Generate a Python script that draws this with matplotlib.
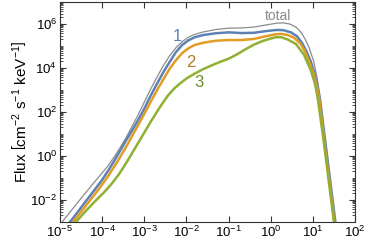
import numpy as np
import matplotlib.pyplot as plt
from matplotlib.ticker import LogLocator, NullFormatter

# values, stored as log10(E / keV) and log10(flux)
logE_total = [-4.95, -4.57, -4.26, -3.86, -3.70, -3.55, -3.40, -3.17, -3.00, -2.86, -2.70, -2.55,
              -2.40, -2.25, -2.10, -1.95, -1.80, -1.60, -1.30, -1.00, -0.70, -0.40, -0.10, 0.15,
              0.30, 0.45, 0.60, 0.72, 0.82, 0.92, 1.02, 1.10, 1.19, 1.31, 1.43, 1.55]
logF_total = [-3.00, -2.09, -1.36, -0.45, 0.00, 0.45, 0.95, 1.78, 2.45, 3.00, 3.58, 4.10,
              4.55, 4.92, 5.20, 5.40, 5.53, 5.64, 5.75, 5.81, 5.82, 5.86, 5.96, 6.04,
              6.05, 6.00, 5.86, 5.62, 5.30, 4.88, 4.30, 3.55, 2.50, 0.66, -1.16, -3.00]

logE_1 = [-4.76, -4.40, -4.02, -3.84, -3.67, -3.45, -3.17, -3.00, -2.86, -2.70, -2.55, -2.40,
          -2.25, -2.10, -1.95, -1.80, -1.60, -1.30, -1.00, -0.70, -0.40, -0.10, 0.15, 0.30,
          0.48, 0.62, 0.74, 0.85, 0.95, 1.03, 1.10, 1.16, 1.28, 1.40, 1.52]
logF_1 = [-3.00, -2.09, -1.14, -0.62, -0.08, 0.65, 1.55, 2.15, 2.70, 3.28, 3.80, 4.27,
          4.72, 5.05, 5.26, 5.40, 5.50, 5.58, 5.62, 5.59, 5.60, 5.68, 5.73, 5.72,
          5.62, 5.45, 5.15, 4.75, 4.30, 3.80, 3.25, 2.62, 0.70, -1.15, -3.00]

logE_2 = [-4.69, -4.26, -4.05, -3.86, -3.62, -3.40, -3.17, -3.00, -2.86, -2.70, -2.55, -2.40,
          -2.25, -2.10, -1.95, -1.80, -1.60, -1.30, -1.00, -0.70, -0.40, -0.17, 0.10, 0.25,
          0.40, 0.55, 0.70, 0.80, 0.90, 1.02, 1.10, 1.15, 1.27, 1.39, 1.51]
logF_2 = [-3.00, -1.95, -1.43, -0.92, -0.20, 0.52, 1.32, 1.92, 2.42, 2.98, 3.48, 3.96,
          4.35, 4.68, 4.90, 5.05, 5.15, 5.24, 5.27, 5.27, 5.32, 5.42, 5.53, 5.55,
          5.50, 5.38, 5.12, 4.80, 4.35, 3.70, 3.10, 2.60, 0.68, -1.15, -3.00]

logE_3 = [-4.62, -4.40, -4.17, -3.95, -3.79, -3.62, -3.50, -3.38, -3.20, -3.05, -2.85, -2.62,
          -2.45, -2.30, -2.15, -2.00, -1.80, -1.60, -1.40, -1.20, -1.00, -0.80, -0.60, -0.40,
          -0.20, 0.00, 0.12, 0.25, 0.40, 0.60, 0.79, 0.95, 1.05, 1.11, 1.26, 1.38, 1.50]
logF_3 = [-3.00, -2.52, -2.06, -1.64, -1.30, -0.88, -0.53, -0.16, 0.42, 0.90, 1.55, 2.25,
          2.72, 3.05, 3.30, 3.52, 3.75, 3.95, 4.12, 4.28, 4.42, 4.62, 4.85, 5.06,
          5.22, 5.34, 5.40, 5.40, 5.30, 5.09, 4.60, 3.90, 3.28, 2.70, 0.64, -1.18, -3.00]

x_ticks = [1e-5, 1e-4, 1e-3, 1e-2, 1e-1, 1e0, 1e1, 1e2]
y_ticks = [1e-2, 1e0, 1e2, 1e4, 1e6]

plt.rcParams['font.family'] = 'Liberation Sans'
plt.rcParams['mathtext.fontset'] = 'custom'
plt.rcParams['mathtext.rm'] = 'Liberation Sans'
plt.rcParams['mathtext.it'] = 'Liberation Sans:italic'

c_total = '#8c8c8c'
c1 = '#5e81b5'
c2 = '#e19c24'
c3 = '#8fb032'

fig = plt.figure(figsize=(3.66, 2.41), dpi=100)
ax = fig.add_axes([60 / 366, 1 - 222 / 241, 295 / 366, 220 / 241])

ax.plot(10 ** np.array(logE_total), 10 ** np.array(logF_total), color=c_total, lw=0.9)
ax.plot(10 ** np.array(logE_1), 10 ** np.array(logF_1), color=c1, lw=1.8)
ax.plot(10 ** np.array(logE_2), 10 ** np.array(logF_2), color=c2, lw=1.8)
ax.plot(10 ** np.array(logE_3), 10 ** np.array(logF_3), color=c3, lw=1.8)

ax.set_xscale('log')
ax.set_yscale('log')
ax.set_xlim(1e-5, 1e2)
ax.set_ylim(1e-3, 1e7)
ax.set_xticks(x_ticks)
ax.set_yticks(y_ticks)
ax.yaxis.set_minor_locator(LogLocator(base=10, subs=np.arange(1, 10), numticks=20))
ax.yaxis.set_minor_formatter(NullFormatter())

ax.tick_params(which='both', direction='in', top=True, right=True, labelsize=9.5, color='#333333')
ax.tick_params(which='major', length=4, width=0.8, pad=2)
ax.tick_params(which='minor', length=2, width=0.6)
for s in ax.spines.values():
    s.set_color('#333333')
    s.set_linewidth(0.8)

ax.set_ylabel(r'Flux $\left[\mathrm{cm^{-2}\ s^{-1}\ keV^{-1}}\right]$', fontsize=11, labelpad=1)

ax.text(10 ** -2.21, 10 ** 5.41, '1', color=c1, fontsize=12, ha='center', va='center')
ax.text(10 ** -1.90, 10 ** 4.27, '2', color='#b27a22', fontsize=12, ha='center', va='center')
ax.text(10 ** -1.71, 10 ** 3.36, '3', color='#6e8c2c', fontsize=12, ha='center', va='center')
ax.text(10 ** 0.17, 10 ** 6.36, 'total', color=c_total, fontsize=10, ha='center', va='center')

fig.savefig('out.png', dpi=100)
